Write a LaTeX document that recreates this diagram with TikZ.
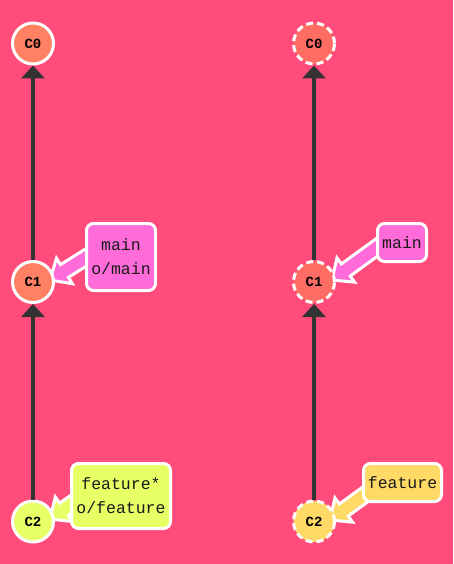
\documentclass[tikz,border=0pt]{standalone}
\usepackage{fontspec}
\setmonofont{Liberation Mono}
\usetikzlibrary{arrows.meta,calc}
\pgfdeclarelayer{back}
\pgfdeclarelayer{mid}
\pgfsetlayers{back,mid,main}
\definecolor{bgpink}{RGB}{255,76,123}
\definecolor{coral}{RGB}{255,128,99}
\definecolor{coralfade}{RGB}{255,108,100}
\definecolor{lime}{RGB}{233,255,102}
\definecolor{gold}{RGB}{255,218,102}
\definecolor{magenta}{RGB}{255,107,217}
\definecolor{linegray}{RGB}{51,51,51}
\tikzset{
  commit/.style={circle, draw=white, line width=3pt, minimum size=41pt, inner sep=0pt,
    font=\ttfamily\bfseries\fontsize{14}{14}\selectfont, text=black},
  faded/.style={dash pattern=on 7pt off 4pt},
  parent/.style={draw=linegray, line width=3.5pt, -{Triangle[width=23pt,length=13pt]}},
  branch/.style={draw=white, line width=3pt, rounded corners=7pt, inner sep=0pt, align=center,
    font=\ttfamily\fontsize{16.5}{24}\selectfont, text=black!90},
  pointer/.style={draw=white, line width=3pt, line join=miter},
}
\newcommand{\ptrshape}[1]{(0,0) -- (17,15) -- (17,7.5) -- (#1,7.5) -- (#1,-7.5) -- (17,-7.5) -- (17,-15) -- cycle}
\begin{document}
\begin{tikzpicture}[x=1pt,y=-1pt]
\useasboundingbox (0,0) rectangle (453,564);
\begin{pgfonlayer}{back}
\fill[bgpink] (0,0) rectangle (453,564);
\end{pgfonlayer}

% left column
\node[commit, fill=coral] (l0) at (33,43.5) {C0};
\node[commit, fill=coral] (l1) at (33,282) {C1};
\node[commit, fill=lime] (l2) at (33,521.5) {C2};
\draw[parent] (l1) -- (l0);
\draw[parent] (l2) -- (l1);

\node[branch, fill=magenta, minimum width=69pt, minimum height=67pt] (lmain) at (121,257) {main\\o/main};
\node[branch, fill=lime, minimum width=99pt, minimum height=65pt] (lfeat) at (121,496) {feature*\\o/feature};

\begin{pgfonlayer}{mid}
\coordinate (t1) at ($(l1.center)+(17,-2)$);
\filldraw[pointer, fill=magenta, shift={(t1)}, rotate=32] \ptrshape{50};
\coordinate (t2) at ($(l2.center)+(17,-2.5)$);
\filldraw[pointer, fill=lime, shift={(t2)}, rotate=35] \ptrshape{32};
\end{pgfonlayer}

% right column
\node[commit, fill=coralfade, faded] (r0) at (314,43.5) {C0};
\node[commit, fill=coralfade, faded] (r1) at (314,282) {C1};
\node[commit, fill=gold, faded] (r2) at (314,521.5) {C2};
\draw[parent] (r1) -- (r0);
\draw[parent] (r2) -- (r1);

\node[branch, fill=magenta, minimum width=49pt, minimum height=38pt] (rmain) at (402,242.5) {main};
\node[branch, fill=gold, minimum width=78pt, minimum height=38pt] (rfeat) at (402.5,482.5) {feature};

\begin{pgfonlayer}{mid}
\coordinate (t3) at ($(r1.center)+(18,-2)$);
\filldraw[pointer, fill=magenta, shift={(t3)}, rotate=36] \ptrshape{62};
\coordinate (t4) at ($(r2.center)+(16,-1.5)$);
\filldraw[pointer, fill=gold, shift={(t4)}, rotate=36] \ptrshape{48};
\end{pgfonlayer}
\end{tikzpicture}
\end{document}
